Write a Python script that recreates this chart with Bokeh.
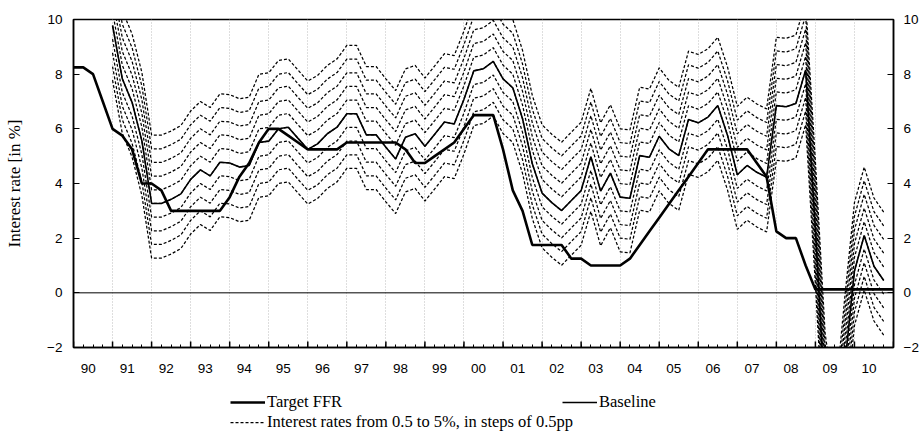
import math
from bokeh.plotting import figure
from bokeh.layouts import column
from bokeh.models import (FixedTicker, LinearAxis, Span, Legend, LegendItem,
                          Range1d, CustomJSTickFormatter)
from bokeh.embed import file_html
from bokeh.resources import INLINE

# ---------------- data ----------------
year_labels = ["90", "91", "92", "93", "94", "95", "96", "97", "98", "99", "00",
               "01", "02", "03", "04", "05", "06", "07", "08", "09", "10"]

# quarter index: 0 = 1990Q1
target_q = list(range(0, 85))
target_ffr = [8.25, 8.25, 8.0, 7.0, 6.0, 5.75, 5.25, 4.0, 4.0, 3.75,
              3.0, 3.0, 3.0, 3.0, 3.0, 3.0, 3.5, 4.25, 4.75, 5.5,
              6.0, 6.0, 5.75, 5.5, 5.25, 5.25, 5.25, 5.25, 5.5, 5.5,
              5.5, 5.5, 5.5, 5.5, 5.25, 4.75, 4.75, 5.0, 5.25, 5.5,
              6.0, 6.5, 6.5, 6.5, 5.25, 3.75, 3.0, 1.75, 1.75, 1.75,
              1.75, 1.25, 1.25, 1.0, 1.0, 1.0, 1.0, 1.25, 1.75, 2.25,
              2.75, 3.25, 3.75, 4.25, 4.75, 5.25, 5.25, 5.25, 5.25, 5.25,
              4.75, 4.25, 2.25, 2.0, 2.0, 1.0, 0.125, 0.125, 0.125, 0.125,
              0.125, 0.125, 0.125, 0.125, 0.125]

baseline_q = list(range(4, 84))
baseline = [9.78, 7.83, 6.97, 5.57, 3.27, 3.27, 3.42, 3.62, 4.15, 4.5,
            4.28, 4.78, 4.75, 4.6, 4.66, 5.5, 5.55, 6.0, 6.06, 5.65,
            5.25, 5.45, 5.82, 6.06, 6.55, 6.55, 5.78, 5.78, 5.33, 4.9,
            5.69, 5.82, 5.36, 5.8, 6.25, 6.18, 7.08, 8.12, 8.2, 8.47,
            7.83, 7.5, 6.37, 4.72, 3.65, 3.3, 3.01, 3.38, 3.74, 4.98,
            3.72, 4.38, 3.5, 3.46, 5.02, 4.96, 5.73, 5.27, 5.02, 6.34,
            6.22, 6.43, 6.85, 5.76, 4.32, 4.66, 4.41, 4.23, 6.85, 6.81,
            6.93, 8.15, 2.3, -4.0, -6.5, -2.7, 0.8, 2.1, 0.97, 0.45]

# alternative rates: shifts of the baseline (pp)
rate_shifts = [-2.0, -1.5, -1.0, -0.5, 0.0, 0.5, 1.0, 1.5, 2.0, 2.5]

y_ticks = [-2, 0, 2, 4, 6, 8, 10]

TICK_FONT = "Liberation Sans"
SERIF = "Liberation Serif"
DASH = "3 2"

# ---------------- main figure ----------------
p = figure(width=921, height=385, x_range=Range1d(0, 84), y_range=Range1d(-2, 10),
           output_backend="svg", toolbar_location=None,
           min_border_left=73, min_border_right=28, min_border_top=19,
           min_border_bottom=38)
p.background_fill_color = "white"
p.border_fill_color = "white"
p.outline_line_color = "black"
p.outline_line_width = 1.5

n_years = len(year_labels)
year_starts = [4 * k for k in range(n_years + 1)]

p.ygrid.visible = False
p.xgrid.ticker = FixedTicker(ticks=year_starts[1:-1])
p.xgrid.grid_line_color = "#bdbdbd"
p.xgrid.grid_line_dash = "1 2"
p.xgrid.grid_line_width = 1

# bottom axis: year labels centred on the four quarters, quarter ticks
xa = p.xaxis[0]
xa.ticker = FixedTicker(ticks=[4 * k + 1.5 for k in range(n_years)],
                        minor_ticks=list(range(0, 4 * n_years + 1)))
xa.formatter = CustomJSTickFormatter(args=dict(labels=year_labels),
                                     code="return labels[Math.round((tick - 1.5) / 4)];")
xa.major_tick_line_color = None
xa.minor_tick_in = 3
xa.minor_tick_out = 0
xa.minor_tick_line_width = 1
xa.axis_line_width = 1.5
xa.major_label_standoff = 10
xa.major_label_text_font = TICK_FONT
xa.major_label_text_font_size = "13.5px"
xa.major_label_text_color = "black"

# longer tick marks at the start of each year
p.scatter(year_starts, [-2] * len(year_starts), marker="dash", angle=math.pi / 2,
          size=12, line_color="black", line_width=1.5)

# left axis
ya = p.yaxis[0]
ya.ticker = FixedTicker(ticks=y_ticks)
ya.major_tick_in = 6
ya.major_tick_out = 0
ya.minor_tick_line_color = None
ya.major_label_standoff = 11
ya.major_label_text_font = TICK_FONT
ya.major_label_text_font_size = "13.5px"
ya.major_label_text_color = "black"
ya.axis_line_width = 1.5
ya.axis_label = "Interest rate [in %]"
ya.axis_label_text_font = SERIF
ya.axis_label_text_font_style = "normal"
ya.axis_label_text_font_size = "17px"
ya.axis_label_text_color = "black"
ya.axis_label_standoff = 20

# right axis
ra = LinearAxis(ticker=FixedTicker(ticks=y_ticks))
ra.major_tick_in = 6
ra.major_tick_out = 0
ra.minor_tick_line_color = None
ra.major_label_standoff = 10
ra.major_label_text_font = TICK_FONT
ra.major_label_text_font_size = "13.5px"
ra.major_label_text_color = "black"
ra.axis_line_width = 1.5
p.add_layout(ra, "right")

# zero line
p.add_layout(Span(location=0, dimension="width", line_color="black", line_width=1))

# ---------------- lines ----------------
for s in rate_shifts:
    p.line(baseline_q, [b + s for b in baseline], line_color="black",
           line_width=1.25, line_dash=DASH)
p.line(baseline_q, baseline, line_color="black", line_width=1.6)
p.line(target_q, target_ffr, line_color="black", line_width=2.6)

# ---------------- legend strip ----------------
lf = figure(width=921, height=52, x_range=Range1d(0, 1), y_range=Range1d(0, 1),
            output_backend="svg", toolbar_location=None,
            x_axis_location=None, y_axis_location=None, min_border=0)
lf.grid.visible = False
lf.outline_line_color = None
lf.background_fill_color = "white"
lf.border_fill_color = "white"

# key samples only (points lie outside the visible range)
off = [-5, -4]
k_target = lf.line(off, off, line_color="black", line_width=2.6)
k_base = lf.line(off, off, line_color="black", line_width=1.6)
k_dash = lf.line(off, off, line_color="black", line_width=1.25, line_dash=DASH)


def make_legend(label, renderer, loc):
    lg = Legend(items=[LegendItem(label=label, renderers=[renderer])], location=loc)
    lg.padding = 0
    lg.margin = 0
    lg.spacing = 0
    lg.glyph_width = 35
    lg.glyph_height = 16
    lg.label_height = 16
    lg.label_standoff = 2
    lg.label_text_font = SERIF
    lg.label_text_font_size = "16.5px"
    lg.label_text_color = "black"
    lg.background_fill_alpha = 0
    lg.border_line_color = None
    return lg


lf.add_layout(make_legend("Target FFR", k_target, (157, 25)))
lf.add_layout(make_legend("Interest rates from 0.5 to 5%, in steps of 0.5pp", k_dash, (157, 5)))
lf.add_layout(make_legend("Baseline", k_base, (489, 25)))

layout = column(p, lf, spacing=0)
open("out.html", "w").write(file_html(layout, INLINE))
